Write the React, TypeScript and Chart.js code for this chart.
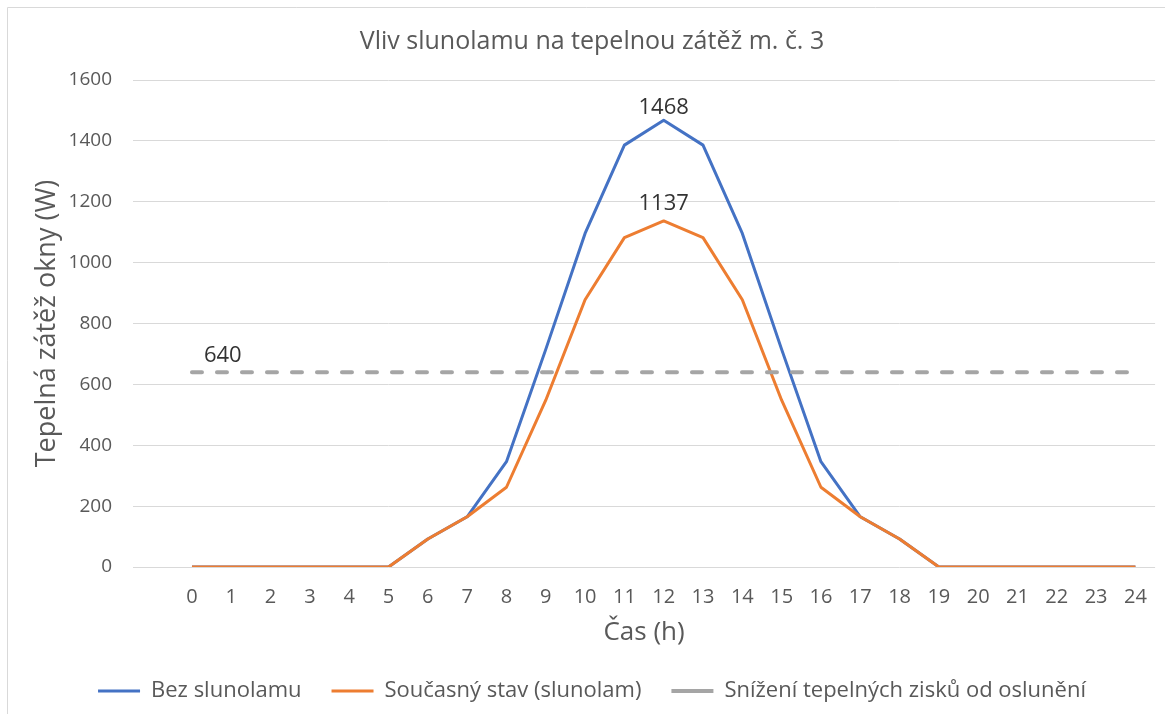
import React, { useEffect, useRef } from "react";
import { Chart, registerables } from "chart.js";

Chart.register(...registerables);

// ---- data ----
const hours = [0, 1, 2, 3, 4, 5, 6, 7, 8, 9, 10, 11, 12, 13, 14, 15, 16, 17, 18, 19, 20, 21, 22, 23, 24];
const bezSlunolamu = [0, 0, 0, 0, 0, 0, 92, 165, 346, 715, 1096, 1386, 1468, 1386, 1096, 715, 346, 165, 92, 0, 0, 0, 0, 0, 0];
const soucasnyStav = [0, 0, 0, 0, 0, 0, 92, 165, 262, 548, 878, 1082, 1137, 1082, 878, 548, 262, 165, 92, 0, 0, 0, 0, 0, 0];
const snizeniZisku = [640, 640, 640, 640, 640, 640, 640, 640, 640, 640, 640, 640, 640, 640, 640, 640, 640, 640, 640, 640, 640, 640, 640, 640, 640];
const seriesNames = ["Bez slunolamu", "Současný stav (slunolam)", "Snížení tepelných zisků od oslunění"];
const yTicks = [0, 200, 400, 600, 800, 1000, 1200, 1400, 1600];
const chartTitle = "Vliv slunolamu na tepelnou zátěž m. č. 3";
const xTitle = "Čas (h)";
const yTitle = "Tepelná zátěž okny (W)";
// points that carry a value label: [datasetIndex, pointIndex]
const labelledPoints = [
  [0, 12],
  [1, 12],
  [2, 0],
];

// ---- styles ----
const FONT = "'Open Sans', sans-serif";
const TEXT = "#595959";
const labelStyle = [
  { align: "center", dx: 0, dy: -12 },
  { align: "center", dx: 0, dy: -17 },
  { align: "left", dx: 12, dy: -16 },
];

const frame = {
  id: "frame",
  beforeDraw(chart: any) {
    const ctx = chart.ctx;
    ctx.save();
    ctx.strokeStyle = "#d9d9d9";
    ctx.lineWidth = 1;
    ctx.beginPath();
    ctx.moveTo(7.5, chart.height);
    ctx.lineTo(7.5, 7.5);
    ctx.lineTo(chart.width, 7.5);
    ctx.stroke();
    ctx.restore();
  },
};

const dataLabels = {
  id: "dataLabels",
  afterDatasetsDraw(chart: any) {
    const ctx = chart.ctx;
    ctx.save();
    ctx.font = `22px ${FONT}`;
    ctx.fillStyle = "#333333";
    ctx.textBaseline = "middle";
    labelledPoints.forEach(([ds, idx], i) => {
      const meta = chart.getDatasetMeta(ds);
      const pt = meta.data[idx];
      const value = chart.data.datasets[ds].data[idx].y;
      const st = labelStyle[i];
      ctx.textAlign = st.align;
      ctx.fillText(String(value), pt.x + st.dx, pt.y + st.dy);
    });
    ctx.restore();
  },
};

export default function App() {
  const ref = useRef<HTMLCanvasElement | null>(null);

  useEffect(() => {
    if (!ref.current) return;
    const toPts = (arr: number[]) => hours.map((h, i) => ({ x: h, y: arr[i] }));
    const chart = new Chart(ref.current, {
      type: "line",
      data: {
        datasets: [
          {
            label: seriesNames[0],
            data: toPts(bezSlunolamu),
            borderColor: "#4472C4",
            backgroundColor: "#4472C4",
            borderWidth: 3,
            pointRadius: 0,
            pointStyle: "line",
            tension: 0,
            borderJoinStyle: "round",
            order: 3,
          },
          {
            label: seriesNames[1],
            data: toPts(soucasnyStav),
            borderColor: "#ED7D31",
            backgroundColor: "#ED7D31",
            borderWidth: 3,
            pointRadius: 0,
            pointStyle: "line",
            tension: 0,
            borderJoinStyle: "round",
            order: 2,
          },
          {
            label: seriesNames[2],
            data: toPts(snizeniZisku),
            borderColor: "#A5A5A5",
            backgroundColor: "#A5A5A5",
            borderWidth: 4,
            borderDash: [10, 15],
            borderCapStyle: "round",
            pointRadius: 0,
            pointStyle: "line",
            tension: 0,
            order: 1,
          },
        ],
      },
      options: {
        responsive: false,
        animation: false,
        layout: { padding: { left: 26, right: 7, top: 0, bottom: 2 } },
        plugins: {
          title: {
            display: true,
            text: chartTitle,
            color: TEXT,
            font: { family: FONT, size: 25, weight: "normal" },
            padding: { top: 27, bottom: 23 },
          },
          legend: {
            display: true,
            position: "bottom",
            labels: {
              usePointStyle: true,
              pointStyleWidth: 42,
              padding: 30,
              color: TEXT,
              font: { family: FONT, size: 22 },
              sort: (a: any, b: any) => a.datasetIndex - b.datasetIndex,
            },
          },
          tooltip: { enabled: false },
        },
        scales: {
          x: {
            type: "linear",
            min: -1.5,
            max: 24.5,
            afterBuildTicks: (s: any) => {
              s.ticks = hours.map((v) => ({ value: v }));
            },
            afterFit: (s: any) => {
              s.height = 83;
            },
            grid: { display: false, drawTicks: false },
            border: { display: false },
            ticks: {
              autoSkip: false,
              maxRotation: 0,
              color: TEXT,
              padding: 18,
              font: { family: FONT, size: 20 },
              callback: (v: any) => String(v),
            },
            title: {
              display: true,
              text: xTitle,
              color: TEXT,
              font: { family: FONT, size: 26 },
              padding: { top: 0, bottom: 2 },
            },
          },
          y: {
            min: 0,
            max: 1600,
            afterBuildTicks: (s: any) => {
              s.ticks = yTicks.map((v) => ({ value: v }));
            },
            afterFit: (s: any) => {
              s.width = 107;
            },
            grid: { color: "#d9d9d9", lineWidth: 1, drawTicks: false },
            border: { display: false },
            ticks: {
              color: TEXT,
              padding: 21,
              font: { family: FONT, size: 19 },
              callback: (v: any) => String(v),
            },
            title: {
              display: true,
              text: yTitle,
              color: TEXT,
              font: { family: FONT, size: 27 },
              padding: { top: 5, bottom: 0 },
            },
          },
        },
      },
      plugins: [frame, dataLabels],
    } as any);
    return () => chart.destroy();
  }, []);

  return (
    <div style={{ position: "fixed", left: 0, top: 0, width: 1165, height: 714, background: "#fff" }}>
      <canvas ref={ref} width={1165} height={714} style={{ display: "block" }} />
    </div>
  );
}
